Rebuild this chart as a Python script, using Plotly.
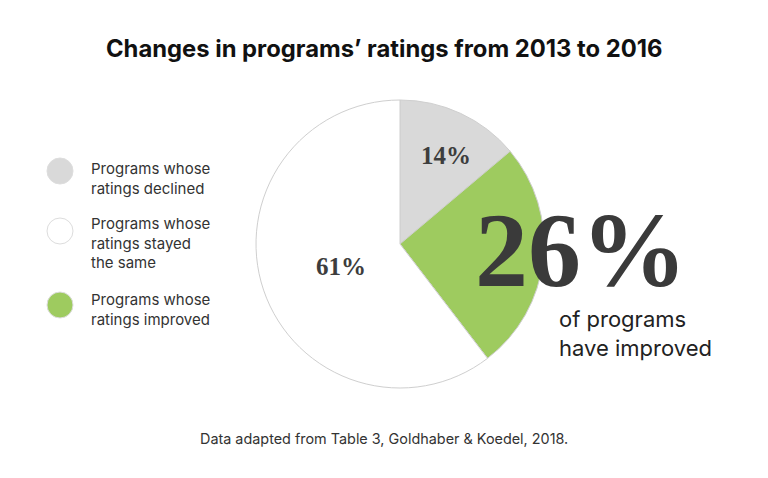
import plotly.graph_objects as go

# ---- data ----
slice_labels = ["Programs whose ratings declined",
                "Programs whose ratings improved",
                "Programs whose ratings stayed the same"]
slice_values = [14, 26, 61]
slice_colors = ["#d9d9d9", "#9ecb5f", "#ffffff"]

legend_texts = ["Programs whose<br>ratings declined",
                "Programs whose<br>ratings stayed<br>the same",
                "Programs whose<br>ratings improved"]
legend_colors = ["#d9d9d9", "#ffffff", "#9ecb5f"]

title_text = "Changes in programs’ ratings from 2013 to 2016"
highlight_value = 26
highlight_caption = "of programs<br>have improved"
source_text = "Data adapted from Table 3, Goldhaber &amp; Koedel, 2018."

W, H = 768, 478
CX, CY, R = 400, 244, 144

fig = go.Figure()
fig.add_trace(go.Pie(
    labels=slice_labels, values=slice_values,
    marker=dict(colors=slice_colors, line=dict(color="#cfcfcf", width=1)),
    sort=False, direction="clockwise", rotation=0,
    textinfo="none", hoverinfo="label+value", showlegend=False,
    domain=dict(x=[(CX - R) / W, (CX + R) / W], y=[1 - (CY + R) / H, 1 - (CY - R) / H]),
))

def px(x, y):
    return x / W, 1 - y / H

def ann(x, y, text, font, xanchor="center", align="center"):
    ax, ay = px(x, y)
    return dict(x=ax, y=ay, xref="paper", yref="paper", showarrow=False,
                xanchor=xanchor, yanchor="middle", align=align, text=text, font=font)

annotations = []
# slice labels
label_pos = {0: (446, 155), 2: (341, 266)}
for i, (lx, ly) in label_pos.items():
    annotations.append(ann(lx, ly, f"<b>{slice_values[i]}%</b>",
                           dict(family="Liberation Serif", size=25, color="#3d3d3d")))

# big highlight
annotations.append(ann(581, 250, f"<b>{highlight_value}%</b>",
                       dict(family="Liberation Serif", size=106, color="#3a3a3a")))
annotations.append(ann(557, 333, highlight_caption,
                       dict(family="Inter", size=22, color="#222222"),
                       xanchor="left", align="left"))

# title
annotations.append(ann(384, 48, f"<b>{title_text}</b>",
                       dict(family="Inter", size=23.8, color="#111111")))
# source
annotations.append(ann(384, 438, source_text,
                       dict(family="Inter", size=14.4, color="#333333")))

# legend
shapes = []
legend_y = [171, 231, 305]
legend_text_y = [178, 243, 309]
for i, txt in enumerate(legend_texts):
    cy = legend_y[i]
    x0, y0 = px(47, cy + 13)
    x1, y1 = px(73, cy - 13)
    shapes.append(dict(type="circle", xref="paper", yref="paper", x0=x0, x1=x1, y0=y0, y1=y1,
                       fillcolor=legend_colors[i], line=dict(color="#dddddd", width=1)))
    annotations.append(ann(89, legend_text_y[i], txt,
                           dict(family="Inter", size=15, color="#333333"),
                           xanchor="left", align="left"))

fig.update_layout(
    width=W, height=H, margin=dict(l=0, r=0, t=0, b=0),
    paper_bgcolor="#ffffff", plot_bgcolor="#ffffff",
    annotations=annotations, shapes=shapes,
)
fig.write_html("out.html", config={"displayModeBar": False},
               post_script="document.body.style.margin='0';")
